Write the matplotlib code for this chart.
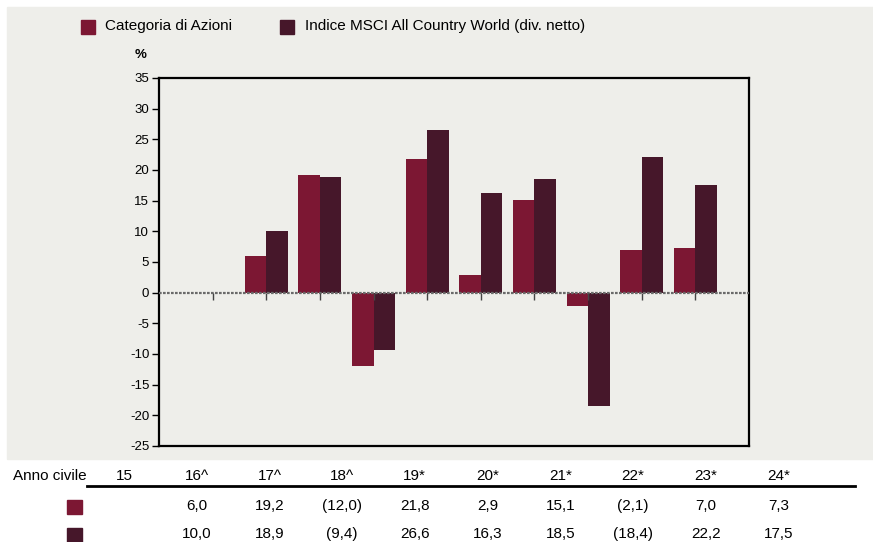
import matplotlib.pyplot as plt
from matplotlib.patches import Rectangle
from matplotlib.lines import Line2D
import numpy as np

# dati
anni = ['15', '16^', '17^', '18^', '19*', '20*', '21*', '22*', '23*', '24*']
categoria = [None, 6.0, 19.2, -12.0, 21.8, 2.9, 15.1, -2.1, 7.0, 7.3]
indice = [None, 10.0, 18.9, -9.4, 26.6, 16.3, 18.5, -18.4, 22.2, 17.5]
serie = ['Categoria di Azioni', 'Indice MSCI All Country World (div. netto)']

C1 = '#7C1733'
C2 = '#46172A'
GRAY = '#EEEEEA'
plt.rcParams['font.family'] = ['Liberation Sans', 'DejaVu Sans']
plt.rcParams['axes.unicode_minus'] = False

W, H = 873, 542
fig = plt.figure(figsize=(W / 100, H / 100), dpi=100)


def fx(x):
    return x / W


def fy(y):
    return 1 - y / H


# sfondo grigio
fig.patches.append(Rectangle((fx(7), fy(459)), fx(873) - fx(7), fy(7) - fy(459),
                             transform=fig.transFigure, color=GRAY, zorder=-5))

ax = fig.add_axes([fx(159), fy(446), fx(749) - fx(159), fy(78) - fy(446)])
ax.set_zorder(2)
ax.set_facecolor(GRAY)

x = np.arange(1, len(anni) + 1)
cat = np.array([np.nan if v is None else v for v in categoria])
ind = np.array([np.nan if v is None else v for v in indice])
ax.bar(x - 0.2, cat, 0.4, color=C1, zorder=2)
ax.bar(x + 0.2, ind, 0.4, color=C2, zorder=2)
ax.axhline(0, color='#6a6a6a', lw=1.6, ls=(0, (1.2, 0.6)), zorder=3)
ax.plot(x, np.zeros(len(x)), ls='none', marker=3, ms=5, mew=1, color='#444444', zorder=3)

ax.set_xlim(0, 11)
ax.set_ylim(-25, 35)
ax.set_yticks(range(-25, 36, 5))
ax.set_xticks([])
ax.tick_params(axis='y', direction='out', length=5, width=1, pad=2, labelsize=9.5)
for s in ax.spines.values():
    s.set_linewidth(1.6)

fig.text(fx(141), fy(55), '%', ha='center', va='center', fontsize=9.5, weight='bold')

# legenda
for sx, tx, col, lab in [(81, 105, C1, serie[0]), (280, 305, C2, serie[1])]:
    fig.patches.append(Rectangle((fx(sx), fy(34)), fx(14), 14 / H,
                                 transform=fig.transFigure, color=col))
    fig.text(fx(tx), fy(26), lab, ha='left', va='center', fontsize=11)

# tabella
def fmt(v):
    if v is None:
        return ''
    s = f'{abs(v):.1f}'.replace('.', ',')
    return f'({s})' if v < 0 else s


col_x = [124 + 72.7 * i for i in range(len(anni))]
fig.text(fx(13), fy(476), 'Anno civile', ha='left', va='center', fontsize=11)
for cx, a, v1, v2 in zip(col_x, anni, categoria, indice):
    fig.text(fx(cx), fy(476), a, ha='center', va='center', fontsize=11)
    fig.text(fx(cx), fy(506), fmt(v1), ha='center', va='center', fontsize=11)
    fig.text(fx(cx), fy(534), fmt(v2), ha='center', va='center', fontsize=11)
fig.lines.append(Line2D([fx(87), fx(855)], [fy(486), fy(486)], transform=fig.transFigure,
                        color='black', lw=2))
for ry, col in [(514, C1), (542, C2)]:
    fig.patches.append(Rectangle((fx(67), fy(ry)), fx(15), 14 / H,
                                 transform=fig.transFigure, color=col))

fig.savefig('out.png', dpi=100)
